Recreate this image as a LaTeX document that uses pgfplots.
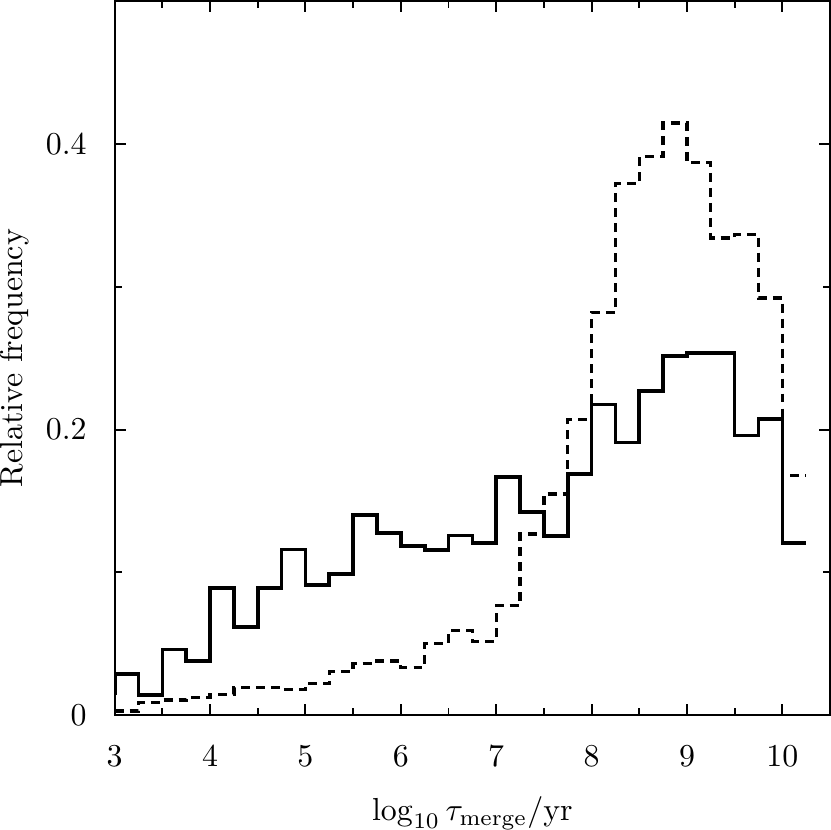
\documentclass[border=0pt]{standalone}
\usepackage{pgfplots}
\pgfplotsset{compat=1.18}

% histogram bins of width 0.25, left edges; last point closes the final bin
\pgfplotstableread{
x     y
3.00  0.0143
3.00  0.0287
3.25  0.0143
3.50  0.0460
3.75  0.0380
4.00  0.0890
4.25  0.0620
4.50  0.0890
4.75  0.1160
5.00  0.0913
5.25  0.0988
5.50  0.1400
5.75  0.1277
6.00  0.1183
6.25  0.1155
6.50  0.1258
6.75  0.1204
7.00  0.1669
7.25  0.1423
7.50  0.1254
7.75  0.1688
8.00  0.2176
8.25  0.1910
8.50  0.2270
8.75  0.2514
9.00  0.2537
9.25  0.2537
9.50  0.1958
9.75  0.2075
10.00 0.1207
10.25 0.1207
}\solidtab

\pgfplotstableread{
x     y
3.00  0.0031
3.25  0.0092
3.50  0.0108
3.75  0.0127
4.00  0.0146
4.25  0.0195
4.50  0.0195
4.75  0.0181
5.00  0.0221
5.25  0.0307
5.50  0.0364
5.75  0.0380
6.00  0.0333
6.25  0.0502
6.50  0.0594
6.75  0.0519
7.00  0.0768
7.25  0.1270
7.50  0.1550
7.75  0.2070
8.00  0.2820
8.25  0.3720
8.50  0.3910
8.75  0.4146
9.00  0.3870
9.25  0.3340
9.50  0.3366
9.75  0.2920
10.00 0.1680
10.25 0.1680
}\dashtab

\begin{document}
\begin{tikzpicture}
\begin{axis}[
    width=224.5pt, height=224.2pt,
    scale only axis,
    xmin=3, xmax=10.5,
    ymin=0, ymax=0.5,
    xtick={3,4,...,10},
    minor xtick={3.5,4.5,...,10.5},
    ytick={0,0.2,0.4},
    minor ytick={0.1,0.3},
    tick align=inside,
    major tick length=3.5pt,
    minor tick length=2.2pt,
    axis line style={line width=0.6pt},
    every tick/.style={black, line width=0.6pt},
    xlabel={$\log_{10}\tau_{\rm merge}/{\rm yr}$},
    ylabel={Relative frequency},
    xticklabel style={inner sep=0pt, yshift=-9.4pt},
    yticklabel style={inner sep=0pt, xshift=-8.6pt},
    xlabel style={inner sep=0pt, at={(axis description cs:0.5,-0.1128)}, anchor=north},
    ylabel style={inner sep=0pt, at={(axis description cs:-0.1189,0.5)}, anchor=south},
]
\addplot[const plot, black, line width=1.15pt] table[x=x, y=y] {\solidtab};
\addplot[const plot, black, line width=1.05pt, dash pattern=on 2.8pt off 1.9pt] table[x=x, y=y] {\dashtab};
\end{axis}
\end{tikzpicture}
\end{document}
